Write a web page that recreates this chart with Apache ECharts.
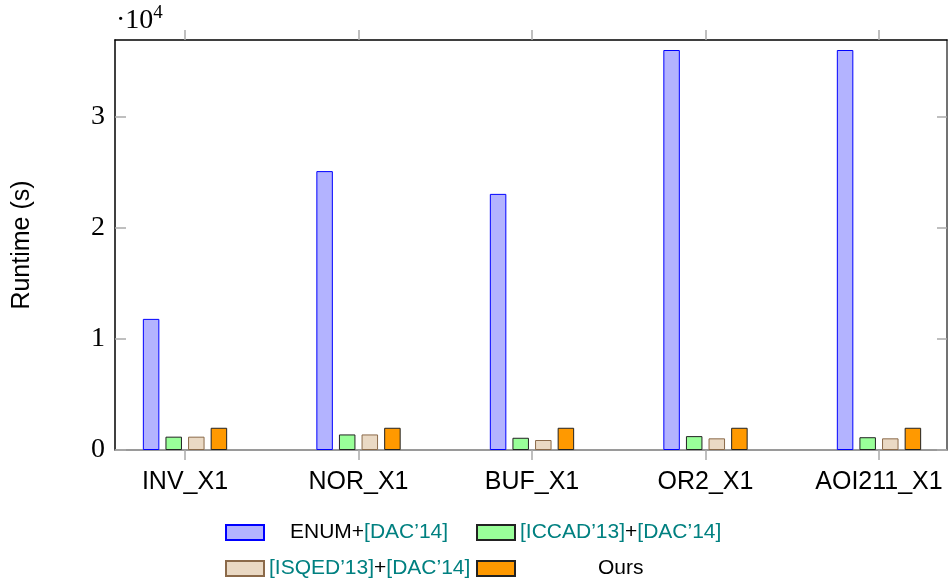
<!DOCTYPE html>
<html>
<head>
<meta charset="utf-8">
<script src="https://cdn.jsdelivr.net/npm/echarts@6/dist/echarts.min.js"></script>
<style>html,body{margin:0;padding:0;background:#fff;}#c{width:949px;height:580px;}</style>
</head>
<body>
<div id="c"></div>
<script>
var categories = ['INV_X1', 'NOR_X1', 'BUF_X1', 'OR2_X1', 'AOI211_X1'];
var seriesNames = ['ENUM+[DAC\u201914]', '[ICCAD\u201913]+[DAC\u201914]', '[ISQED\u201913]+[DAC\u201914]', 'Ours'];
var enumDac = [11800, 25100, 23050, 36000, 36000];
var iccadDac = [1200, 1400, 1100, 1250, 1150];
var isqedDac = [1200, 1400, 900, 1050, 1050];
var ours = [2000, 2000, 2000, 2000, 2000];
var yTicks = [0, 10000, 20000, 30000];
var yTickLabels = ['0', '1', '2', '3'];

var tickIdx = categories.map(function (c, i) { return i; });
function pts(arr) { return arr.map(function (v, i) { return [i, v]; }); }

var styles = [
  { color: '#b3b3ff', borderColor: '#0000ff' },
  { color: '#99ff99', borderColor: '#222222' },
  { color: '#ead9c4', borderColor: '#8b6a4a' },
  { color: '#ff9900', borderColor: '#222222' }
];
var values = [enumDac, iccadDac, isqedDac, ours];

var chart = echarts.init(document.getElementById('c'));
var xMin = -0.4035, xMax = 4.392, yMax = 36900;

var series = values.map(function (arr, k) {
  return {
    name: seriesNames[k],
    type: 'bar',
    data: pts(arr),
    barWidth: 16.5,
    barGap: '37%',
    itemStyle: { color: styles[k].color, borderColor: styles[k].borderColor, borderWidth: 1 },
    emphasis: { disabled: true },
    xAxisIndex: 0, yAxisIndex: 0
  };
});

var FS = 21;
var legendRich = {
  k: { color: '#000', fontFamily: 'Liberation Sans', fontSize: FS },
  t: { color: '#008080', fontFamily: 'Liberation Sans', fontSize: FS },
  s1: { width: 21 },
  s4: { width: 78 }
};
var legendFmt = {};
legendFmt[seriesNames[0]] = '{s1| }{k|ENUM+}{t|[DAC\u201914]}';
legendFmt[seriesNames[1]] = '{t|[ICCAD\u201913]}{k|+}{t|[DAC\u201914]}';
legendFmt[seriesNames[2]] = '{t|[ISQED\u201913]}{k|+}{t|[DAC\u201914]}';
legendFmt[seriesNames[3]] = '{s4| }{k|Ours}';
var legendPos = [[225, 522], [476, 522], [225, 558], [476, 558]];
var legends = seriesNames.map(function (n, k) {
  return {
    data: [n],
    left: legendPos[k][0], top: legendPos[k][1],
    itemWidth: 38, itemHeight: 15,
    padding: 0,
    selectedMode: false,
    icon: 'rect',
    formatter: function (name) { return legendFmt[name]; },
    textStyle: { rich: legendRich, fontSize: FS, fontFamily: 'Liberation Sans' }
  };
});

chart.setOption({
  animation: false,
  backgroundColor: '#fff',
  grid: { left: 115, right: 2, top: 40, bottom: 130 },
  legend: legends,
  xAxis: [{
    type: 'value', position: 'bottom', min: xMin, max: xMax,
    axisLine: { show: true, onZero: false, lineStyle: { color: '#7a7a7a', width: 1.5 } },
    axisTick: { show: true, inside: false, length: 10, customValues: tickIdx, lineStyle: { color: '#aaaaaa', width: 1.5 } },
    axisLabel: { customValues: tickIdx, formatter: function (v) { return categories[Math.round(v)]; },
      color: '#000', fontFamily: 'Liberation Sans', fontSize: 25, margin: 20 },
    splitLine: { show: false }
  }, {
    type: 'value', position: 'top', min: xMin, max: xMax,
    axisLine: { show: true, onZero: false, lineStyle: { color: '#000', width: 1.5 } },
    axisTick: { show: true, inside: false, length: 10, customValues: tickIdx, lineStyle: { color: '#aaaaaa', width: 1.5 } },
    axisLabel: { show: false },
    splitLine: { show: false }
  }],
  yAxis: [{
    type: 'value', position: 'left', min: 0, max: yMax,
    name: 'Runtime (s)', nameLocation: 'middle', nameGap: 80,
    nameTextStyle: { fontFamily: 'Liberation Sans', fontSize: 25, color: '#000' },
    axisLine: { show: true, onZero: false, lineStyle: { color: '#000', width: 1.5 } },
    axisTick: { show: true, inside: true, length: 11, customValues: yTicks, lineStyle: { color: '#aaaaaa', width: 1.5 } },
    axisLabel: { customValues: yTicks, formatter: function (v) { return yTickLabels[yTicks.indexOf(v)]; },
      color: '#000', fontFamily: 'Liberation Serif', fontSize: 28, margin: 10 },
    splitLine: { show: false }
  }, {
    type: 'value', position: 'right', min: 0, max: yMax,
    axisLine: { show: true, onZero: false, lineStyle: { color: '#444', width: 1.5 } },
    axisTick: { show: true, inside: true, length: 10, customValues: yTicks, lineStyle: { color: '#aaaaaa', width: 1.5 } },
    axisLabel: { show: false },
    splitLine: { show: false }
  }],
  graphic: [{
    type: 'text', left: 116, top: 4,
    style: {
      text: '{a|\u00b710}{b|4}',
      rich: {
        a: { fontFamily: 'Liberation Serif', fontSize: 28, fill: '#000', verticalAlign: 'bottom' },
        b: { fontFamily: 'Liberation Serif', fontSize: 19, fill: '#000', verticalAlign: 'top', padding: [0, 0, 12, 0] }
      }
    }
  }],
  series: series
});
</script>
</body>
</html>
